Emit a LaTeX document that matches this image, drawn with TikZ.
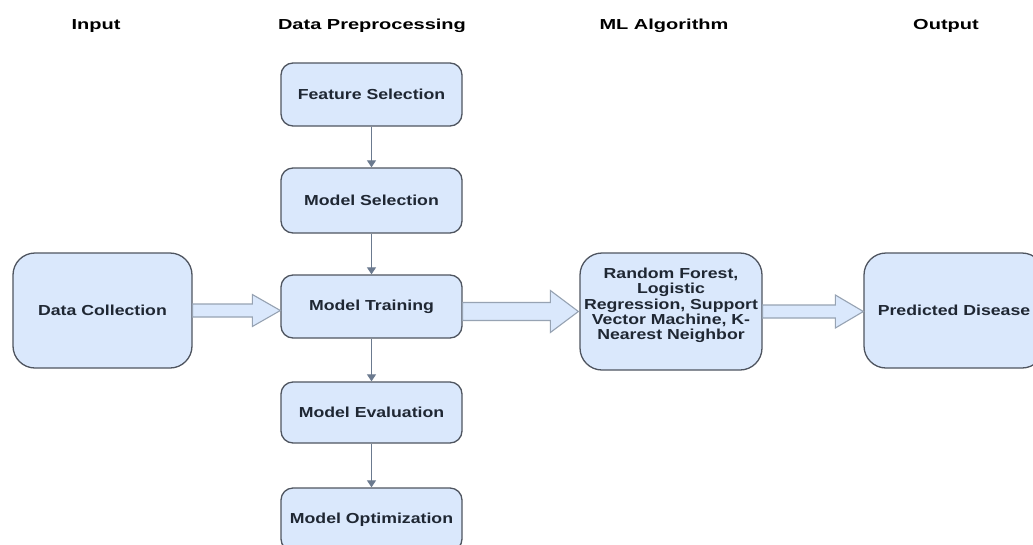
\documentclass[tikz,border=0pt]{standalone}
\usepackage{fontspec}
\usetikzlibrary{calc,arrows.meta}
\newfontfamily\boxfam[FakeStretch=1.22]{Liberation Sans}
\newfontfamily\headfam[FakeStretch=1.38]{Liberation Sans}
\definecolor{boxfill}{HTML}{DAE8FC}
\definecolor{boxline}{HTML}{4F5560}
\definecolor{arrline}{HTML}{97A3B3}
\definecolor{linkcol}{HTML}{6B7A8F}
\definecolor{txt}{HTML}{1F2733}
% block arrow: from, tip, shaft half-height, head half-height, head length
\newcommand\flowarrow[5]{%
  \draw[blockarr] ($(#1)+(0,-#3)$) -- ($(#2)+(-#5,-#3)$) -- ($(#2)+(-#5,-#4)$)
    -- (#2) -- ($(#2)+(-#5,#4)$) -- ($(#2)+(-#5,#3)$) -- ($(#1)+(0,#3)$) -- cycle;}
\begin{document}
\begin{tikzpicture}[x=1pt,y=-1pt,
  stagetext/.style={inner sep=0pt, text=txt,
    font=\boxfam\bfseries\fontsize{14.5}{15.25}\selectfont, align=center},
  stage/.style={stagetext, draw=boxline, fill=boxfill, line width=1.3pt, rounded corners=12pt,
    minimum width=181pt, minimum height=63pt},
  bigstage/.style={stage, rounded corners=22pt, minimum width=180pt, minimum height=115pt},
  head/.style={font=\headfam\bfseries\fontsize{14.5}{16}\selectfont, text=black, inner sep=0pt},
  link/.style={draw=linkcol, line width=1.2pt, -{Triangle[length=7pt,width=9pt]}},
  blockarr/.style={draw=arrline, fill=boxfill, line width=1.1pt, line join=miter}]
\useasboundingbox (0,0) rectangle (1033,544);
\fill[white] (0,0) rectangle (1033,544);
\clip (0,0) rectangle (1033,544);

% column headings
\node[head] (hin)  at (96,26)  {Input};
\node[head] (hpre) at (372,26) {Data Preprocessing};
\node[head] (hml)  at (664,26) {ML Algorithm};
\node[head] (hout) at (946,26) {Output};

% preprocessing column
\node[stage] (fs) at (371.5,94.5)  {Feature Selection};
\node[stage, minimum height=65pt] (ms) at (371.5,200.5) {Model Selection};
\node[stage] (mt) at (371.5,306.5) {Model Training};
\node[stage, minimum height=61pt] (me) at (371.5,412.5) {Model Evaluation};
\node[stage] (mo) at (371.5,519.5) {Model Optimization};

% input, algorithm and output
\node[bigstage, minimum width=179pt] (dc) at (102.5,310.5) {Data Collection};
\node[bigstage, minimum width=182pt, minimum height=117pt] (ml) at (671,311.5) {};
\node[stagetext] (mltext) at ($(ml.center)+(0,-6)$)
  {Random Forest,\\Logistic\\Regression, Support\\Vector Machine, K-\\Nearest Neighbor};
\node[bigstage] (pd) at (954,310.5) {Predicted Disease};

% links inside the preprocessing column
\draw[link] (fs) -- (ms);
\draw[link] (ms) -- (mt);
\draw[link] (mt) -- (me);
\draw[link] (me) -- (mo);

% block arrows between stages
\coordinate (t1) at (mt.west |- dc.east);
\coordinate (s2) at (mt.east |- ml.west);
\coordinate (t2) at ($(ml.west)+(-1,0)$);
\coordinate (t3) at (pd.west |- ml.east);
\flowarrow{dc.east}{t1}{6.5}{16}{28}
\flowarrow{s2}{t2}{9}{21}{28}
\flowarrow{ml.east}{t3}{6.5}{16.5}{28}
\end{tikzpicture}
\end{document}
